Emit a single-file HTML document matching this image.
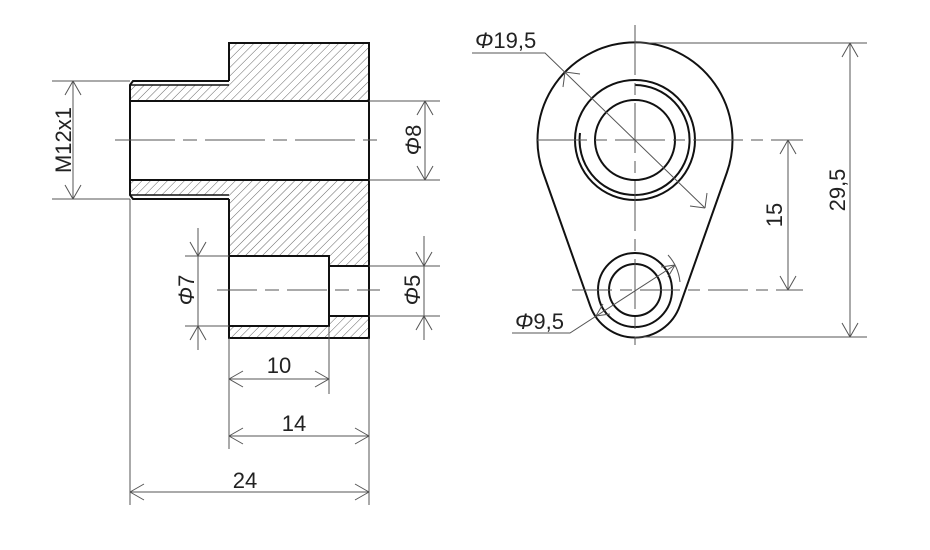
<!DOCTYPE html>
<html><head><meta charset="utf-8"><style>
html,body{margin:0;padding:0;background:#fff;}
svg{display:block;}
text{font-family:"Liberation Sans",sans-serif;font-size:22px;fill:#222;}
</style></head><body>
<svg width="930" height="550" viewBox="0 0 930 550" xmlns="http://www.w3.org/2000/svg">
<defs>
<pattern id="h" patternUnits="userSpaceOnUse" width="6" height="6" patternTransform="rotate(45)">
<rect width="6" height="6" fill="#fff"/><line x1="0" y1="0" x2="0" y2="6" stroke="#666" stroke-width="1"/>
</pattern>
</defs>
<rect x="229" y="43" width="140" height="295" fill="url(#h)"/>
<rect x="131" y="85" width="98" height="16" fill="url(#h)"/>
<rect x="131" y="180" width="98" height="15" fill="url(#h)"/>
<rect x="130" y="101" width="239" height="79" fill="#fff"/>
<rect x="229" y="256" width="100" height="70" fill="#fff"/>
<rect x="329" y="266" width="40" height="50" fill="#fff"/>
<g fill="none" stroke="#111" stroke-width="2">
<path d="M229,81 V43 H369 V338 H229 V199"/>
<path d="M229,81 H133 L130,85 V195 L133,199 H229"/>
<line x1="131" y1="85" x2="229" y2="85" stroke-width="1.5"/>
<line x1="131" y1="195" x2="229" y2="195" stroke-width="1.5"/>
<line x1="130" y1="101" x2="369" y2="101"/>
<line x1="130" y1="180" x2="369" y2="180"/>
<path d="M229,338 V256 H329 V326 H229"/>
<path d="M329,266 H369 M329,316 H369"/>
</g>
<g fill="none" stroke="#555" stroke-width="1">
<line x1="115" y1="140" x2="380" y2="140" stroke-dasharray="60,8,14,8"/>
<line x1="217" y1="290" x2="380" y2="290" stroke-dasharray="40,8,14,8"/>
<path d="M52,81 H130 M52,199 H130 M73,81 V199"/>
<path d="M73,81 l-8,14 M73,81 l8,14 M73,199 l-8,-14 M73,199 l8,-14"/>
<path d="M369,101 H440 M369,180 H440 M425,101 V180"/>
<path d="M425,101 l-8,14 M425,101 l8,14 M425,180 l-8,-14 M425,180 l8,-14"/>
<path d="M185,256 H229 M185,326 H229 M198,228 V350"/>
<path d="M198,256 l-8,-14 M198,256 l8,-14 M198,326 l-8,14 M198,326 l8,14"/>
<path d="M369,266 H440 M369,316 H440 M424,236 V340"/>
<path d="M424,266 l-8,-14 M424,266 l8,-14 M424,316 l-8,14 M424,316 l8,14"/>
<path d="M130,199 V505 M369,338 V505 M229,338 V449 M329,326 V394"/>
<path d="M229,379 H329 M229,379 l14,-8 M229,379 l14,8 M329,379 l-14,-8 M329,379 l-14,8"/>
<path d="M229,436 H369 M229,436 l14,-8 M229,436 l14,8 M369,436 l-14,-8 M369,436 l-14,8"/>
<path d="M130,492 H369 M130,492 l14,-8 M130,492 l14,8 M369,492 l-14,-8 M369,492 l-14,8"/>
</g>
<text x="279" y="373" text-anchor="middle">10</text>
<text x="294" y="431" text-anchor="middle">14</text>
<text x="245" y="488" text-anchor="middle">24</text>
<text transform="translate(71,140) rotate(-90)" text-anchor="middle">M12x1</text>
<text transform="translate(421,140) rotate(-90)" text-anchor="middle"><tspan font-style="italic">Φ</tspan>8</text>
<text transform="translate(194,290) rotate(-90)" text-anchor="middle"><tspan font-style="italic">Φ</tspan>7</text>
<text transform="translate(420,290) rotate(-90)" text-anchor="middle"><tspan font-style="italic">Φ</tspan>5</text>
<g fill="none" stroke="#111" stroke-width="2">
<path d="M543.1,172.5 A97.5,97.5 0 1 1 726.9,172.5 L679.8,305.8 A47.5,47.5 0 0 1 590.2,305.8 Z"/>
<circle cx="635" cy="140" r="40"/>
<circle cx="635" cy="140" r="60"/>
<path d="M635,85 A55,55 0 1 1 580,133"/>
<circle cx="635" cy="290" r="37"/>
<circle cx="635" cy="290" r="26"/>
</g>
<g fill="none" stroke="#555" stroke-width="1">
<line x1="635" y1="25" x2="635" y2="345" stroke-dasharray="50,8,12,8"/>
<line x1="537" y1="140" x2="803" y2="140" stroke-dasharray="50,8,12,8"/>
<line x1="572" y1="290" x2="803" y2="290" stroke-dasharray="40,8,12,8"/>
<path d="M635,43 H867 M635,337 H867 M850,43 V337"/>
<path d="M850,43 l-8,14 M850,43 l8,14 M850,337 l-8,-14 M850,337 l8,-14"/>
<path d="M788,140 V290 M788,140 l-8,14 M788,140 l8,14 M788,290 l-8,-14 M788,290 l8,-14"/>
<path d="M472,53 H545 L705,208"/>
<path d="M565,72 l15,2 M565,72 l-2,15 M705,208 l-15,-2 M705,208 l2,-15"/>
<path d="M512,333 H570 L675,265"/>
<path d="M675,265 l-14,2 M675,265 l-7,12 M596,316 l14,-2 M596,316 l7,-12"/>
<path d="M668,255 A47.5,47.5 0 0 1 680,282"/>
</g>
<text x="475" y="48"><tspan font-style="italic">Φ</tspan>19,5</text>
<text x="515" y="329"><tspan font-style="italic">Φ</tspan>9,5</text>
<text transform="translate(782,215) rotate(-90)" text-anchor="middle">15</text>
<text transform="translate(845,190) rotate(-90)" text-anchor="middle">29,5</text>
</svg>
</body></html>
